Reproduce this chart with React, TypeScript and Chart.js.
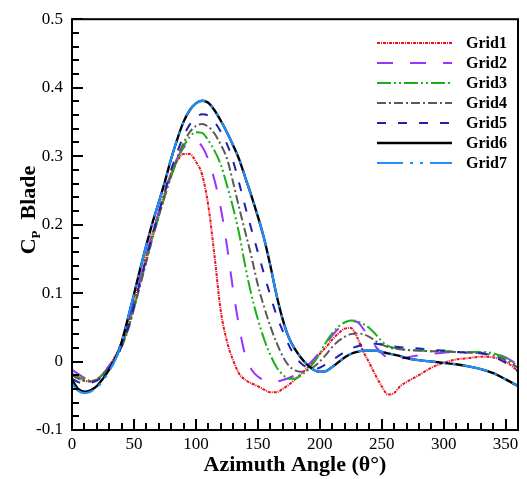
import React, { useEffect, useRef } from 'react';
import { Chart, registerables } from 'chart.js';
Chart.register(...registerables);

const angles = [0,5,10,15,20,25,30,35,40,45,50,55,60,65,70,75,80,85,90,95,100,105,110,115,120,125,130,135,140,145,150,155,160,165,170,175,180,185,190,195,200,205,210,215,220,225,230,235,240,245,250,255,260,265,270,280,290,300,310,320,330,340,350,360];

const grid1 = [-0.018,-0.024,-0.028,-0.029,-0.026,-0.018,-0.006,0.008,0.025,0.052,0.085,0.120,0.155,0.188,0.218,0.248,0.275,0.293,0.303,0.303,0.292,0.273,0.228,0.155,0.075,0.030,0.002,-0.018,-0.027,-0.032,-0.036,-0.041,-0.045,-0.045,-0.040,-0.034,-0.026,-0.018,-0.009,0.000,0.011,0.021,0.032,0.041,0.048,0.049,0.036,0.015,-0.002,-0.020,-0.036,-0.048,-0.046,-0.036,-0.030,-0.020,-0.009,-0.002,0.003,0.005,0.007,0.006,0.000,-0.014];

const grid2 = [-0.012,-0.018,-0.024,-0.027,-0.025,-0.018,-0.006,0.008,0.026,0.052,0.085,0.120,0.155,0.188,0.218,0.248,0.275,0.297,0.312,0.320,0.322,0.314,0.295,0.265,0.225,0.170,0.105,0.050,0.008,-0.012,-0.022,-0.027,-0.029,-0.029,-0.027,-0.024,-0.020,-0.014,-0.006,0.003,0.014,0.026,0.038,0.048,0.055,0.059,0.058,0.048,0.034,0.022,0.012,0.005,0.003,0.004,0.006,0.009,0.011,0.013,0.014,0.014,0.013,0.012,0.006,-0.005];

const grid3 = [-0.018,-0.022,-0.026,-0.028,-0.026,-0.019,-0.008,0.005,0.022,0.046,0.078,0.112,0.147,0.181,0.212,0.242,0.270,0.294,0.314,0.328,0.335,0.334,0.323,0.308,0.288,0.258,0.225,0.186,0.138,0.096,0.062,0.033,0.010,-0.008,-0.019,-0.025,-0.025,-0.020,-0.012,-0.002,0.012,0.028,0.041,0.051,0.057,0.060,0.059,0.055,0.049,0.040,0.030,0.023,0.020,0.018,0.017,0.016,0.015,0.015,0.014,0.014,0.014,0.012,0.005,-0.007];

const grid4 = [-0.020,-0.025,-0.028,-0.029,-0.027,-0.020,-0.009,0.004,0.021,0.045,0.077,0.111,0.146,0.180,0.212,0.243,0.272,0.298,0.319,0.335,0.344,0.347,0.343,0.333,0.317,0.297,0.262,0.224,0.188,0.152,0.112,0.080,0.052,0.028,0.008,-0.006,-0.013,-0.015,-0.013,-0.008,0.000,0.010,0.021,0.030,0.036,0.040,0.041,0.040,0.036,0.030,0.025,0.021,0.019,0.018,0.017,0.016,0.015,0.015,0.014,0.013,0.012,0.009,0.002,-0.009];

const grid5 = [-0.025,-0.030,-0.032,-0.031,-0.028,-0.021,-0.010,0.004,0.022,0.048,0.081,0.116,0.151,0.185,0.217,0.249,0.280,0.306,0.329,0.346,0.357,0.361,0.359,0.350,0.336,0.318,0.293,0.260,0.225,0.192,0.160,0.128,0.097,0.068,0.045,0.024,0.008,-0.003,-0.009,-0.011,-0.009,-0.004,0.002,0.008,0.014,0.019,0.022,0.025,0.026,0.026,0.025,0.024,0.022,0.021,0.020,0.019,0.017,0.016,0.014,0.013,0.012,0.007,-0.002,-0.014];

const grid6 = [-0.027,-0.040,-0.044,-0.042,-0.036,-0.025,-0.012,0.005,0.028,0.062,0.098,0.135,0.170,0.203,0.232,0.263,0.296,0.325,0.350,0.367,0.377,0.381,0.378,0.367,0.352,0.335,0.316,0.295,0.268,0.241,0.212,0.180,0.141,0.098,0.062,0.035,0.018,0.005,-0.005,-0.012,-0.015,-0.014,-0.008,-0.001,0.006,0.011,0.014,0.016,0.016,0.016,0.014,0.012,0.010,0.008,0.005,0.002,0.000,-0.002,-0.004,-0.007,-0.011,-0.017,-0.026,-0.036];

const grid7 = [-0.032,-0.043,-0.046,-0.044,-0.038,-0.028,-0.014,0.003,0.028,0.062,0.098,0.135,0.170,0.203,0.232,0.263,0.296,0.325,0.350,0.367,0.377,0.381,0.378,0.367,0.352,0.335,0.316,0.295,0.268,0.241,0.212,0.180,0.141,0.098,0.062,0.035,0.018,0.005,-0.005,-0.012,-0.015,-0.014,-0.008,-0.001,0.006,0.011,0.014,0.016,0.016,0.016,0.014,0.012,0.010,0.008,0.005,0.002,0.000,-0.002,-0.004,-0.007,-0.011,-0.017,-0.026,-0.036];

const seriesNames = ['Grid1','Grid2','Grid3','Grid4','Grid5','Grid6','Grid7'];
const seriesValues = [grid1, grid2, grid3, grid4, grid5, grid6, grid7];
const seriesColors = ['#E8101A','#9A33FF','#19B019','#5A5A5A','#1F1FB0','#000000','#1E8FFF'];
const seriesDashes: number[][] = [[3,1,1,1],[16,17],[14,3,2,3,2,3],[9,3,2,3],[9,12],[],[26,7,3,7,3,7]];
const seriesWidths = [2,2,2,2,2,2.4,2.2];

const xTicks = [0,50,100,150,200,250,300,350];
const yTicks = [-0.1,0,0.1,0.2,0.3,0.4,0.5];
const xMinorStep = 10;
const yMinorStep = 0.02;
const xTitle = 'Azimuth Angle (θ°)';
const yTitleMain = 'C';
const yTitleSub = 'P';
const yTitleRest = 'Blade';

const X_MIN = 0, X_MAX = 360, Y_MIN = -0.1, Y_MAX = 0.5;
const SERIF = '"Liberation Serif", "Times New Roman", serif';

function drawTicksAndFrame(chart: any) {
  const ctx = chart.ctx;
  const a = chart.chartArea;
  const left = a.left, right = a.right, top = a.top, bottom = a.bottom;
  ctx.save();
  ctx.setLineDash([]);
  ctx.globalAlpha = 1;
  ctx.globalCompositeOperation = 'source-over';
  ctx.fillStyle = '#000000';
  const nx = Math.round((X_MAX - X_MIN) / xMinorStep);
  for (let k = 0; k < nx; k++) {
    const px = Math.round(left + (k * xMinorStep / (X_MAX - X_MIN)) * (right - left));
    const len = k % 5 === 0 ? 11 : 7;
    ctx.fillRect(px - 1, bottom - len, 2, len);
  }
  const ny = Math.round((Y_MAX - Y_MIN) / yMinorStep);
  for (let k = 0; k <= ny; k++) {
    const py = Math.round(bottom - (k * yMinorStep / (Y_MAX - Y_MIN)) * (bottom - top));
    const len = k % 5 === 0 ? 11 : 7;
    ctx.fillRect(left, py - 1, len, 2);
  }
  ctx.strokeStyle = '#000000';
  ctx.lineWidth = 2;
  ctx.strokeRect(left, top, right - left, bottom - top);
  ctx.restore();
}

const decorPlugin = {
  id: 'decor',
  afterDraw(chart: any) {
    const ctx = chart.ctx;
    const a = chart.chartArea;
    // legend
    ctx.save();
    const lx0 = 377, lx1 = 452, tx = 466;
    ctx.font = 'bold 16px ' + SERIF;
    ctx.textBaseline = 'middle';
    ctx.textAlign = 'left';
    for (let i = 0; i < seriesNames.length; i++) {
      const y = 43 + i * 20;
      ctx.strokeStyle = seriesColors[i];
      ctx.lineWidth = seriesWidths[i];
      ctx.setLineDash(seriesDashes[i]);
      ctx.beginPath();
      ctx.moveTo(lx0, y);
      ctx.lineTo(lx1, y);
      ctx.stroke();
      ctx.setLineDash([]);
      ctx.fillStyle = '#000';
      ctx.fillText(seriesNames[i], tx, y + 1);
    }
    ctx.restore();

    // x title
    ctx.save();
    ctx.fillStyle = '#000';
    ctx.font = 'bold 22px ' + SERIF;
    ctx.textAlign = 'center';
    ctx.textBaseline = 'middle';
    ctx.fillText(xTitle, (a.left + a.right) / 2, 465);
    ctx.restore();

    // y title
    ctx.save();
    ctx.translate(27, 210);
    ctx.rotate(-Math.PI / 2);
    ctx.fillStyle = '#000';
    ctx.textBaseline = 'alphabetic';
    ctx.textAlign = 'left';
    const fMain = 'bold 22px ' + SERIF;
    const fSub = 'bold 13px ' + SERIF;
    ctx.font = fMain;
    const wC = ctx.measureText(yTitleMain).width;
    const wRest = ctx.measureText('  ' + yTitleRest).width;
    ctx.font = fSub;
    const wP = ctx.measureText(yTitleSub).width;
    let x = -(wC + wP + wRest) / 2;
    const base = 8;
    ctx.font = fMain;
    ctx.fillText(yTitleMain, x, base);
    x += wC;
    ctx.font = fSub;
    ctx.fillText(yTitleSub, x, base + 5);
    x += wP;
    ctx.font = fMain;
    ctx.fillText('  ' + yTitleRest, x, base);
    ctx.restore();

    // ticks + frame last
    drawTicksAndFrame(chart);
  },
};

export default function App() {
  const ref = useRef<HTMLCanvasElement | null>(null);
  useEffect(() => {
    document.body.style.margin = '0';
    document.body.style.overflow = 'hidden';
    const canvas = ref.current;
    if (!canvas) return;
    const chart = new Chart(canvas, {
      type: 'line',
      data: {
        datasets: seriesNames.map((name, i) => ({
          label: name,
          data: angles.map((a, j) => ({ x: a, y: seriesValues[i][j] })),
          borderColor: seriesColors[i],
          borderWidth: seriesWidths[i],
          borderDash: seriesDashes[i],
          pointRadius: 0,
          cubicInterpolationMode: 'monotone',
        })).reverse(),
      },
      options: {
        animation: false,
        responsive: false,
        events: [],
        layout: { padding: { top: 15, right: 9 } },
        plugins: { legend: { display: false }, tooltip: { enabled: false } },
        scales: {
          x: {
            type: 'linear', min: X_MIN, max: X_MAX,
            afterBuildTicks: (s: any) => { s.ticks = xTicks.map((v) => ({ value: v })); },
            grid: { display: false, drawTicks: false }, border: { display: false },
            ticks: { autoSkip: false, maxRotation: 0, color: '#000', padding: 4, font: { family: SERIF, size: 17 } },
            afterFit: (s: any) => { s.height = 49; },
          },
          y: {
            type: 'linear', min: Y_MIN, max: Y_MAX,
            afterBuildTicks: (s: any) => { s.ticks = yTicks.map((v) => ({ value: v })); },
            grid: { display: false, drawTicks: false }, border: { display: false },
            ticks: { autoSkip: false, color: '#000', padding: 9, font: { family: SERIF, size: 17 } },
            afterFit: (s: any) => { s.width = 72; },
          },
        },
      },
      plugins: [decorPlugin],
    } as any);
    return () => chart.destroy();
  }, []);
  return <canvas ref={ref} width={527} height={479} style={{ display: 'block', width: 527, height: 479 }} />;
}
